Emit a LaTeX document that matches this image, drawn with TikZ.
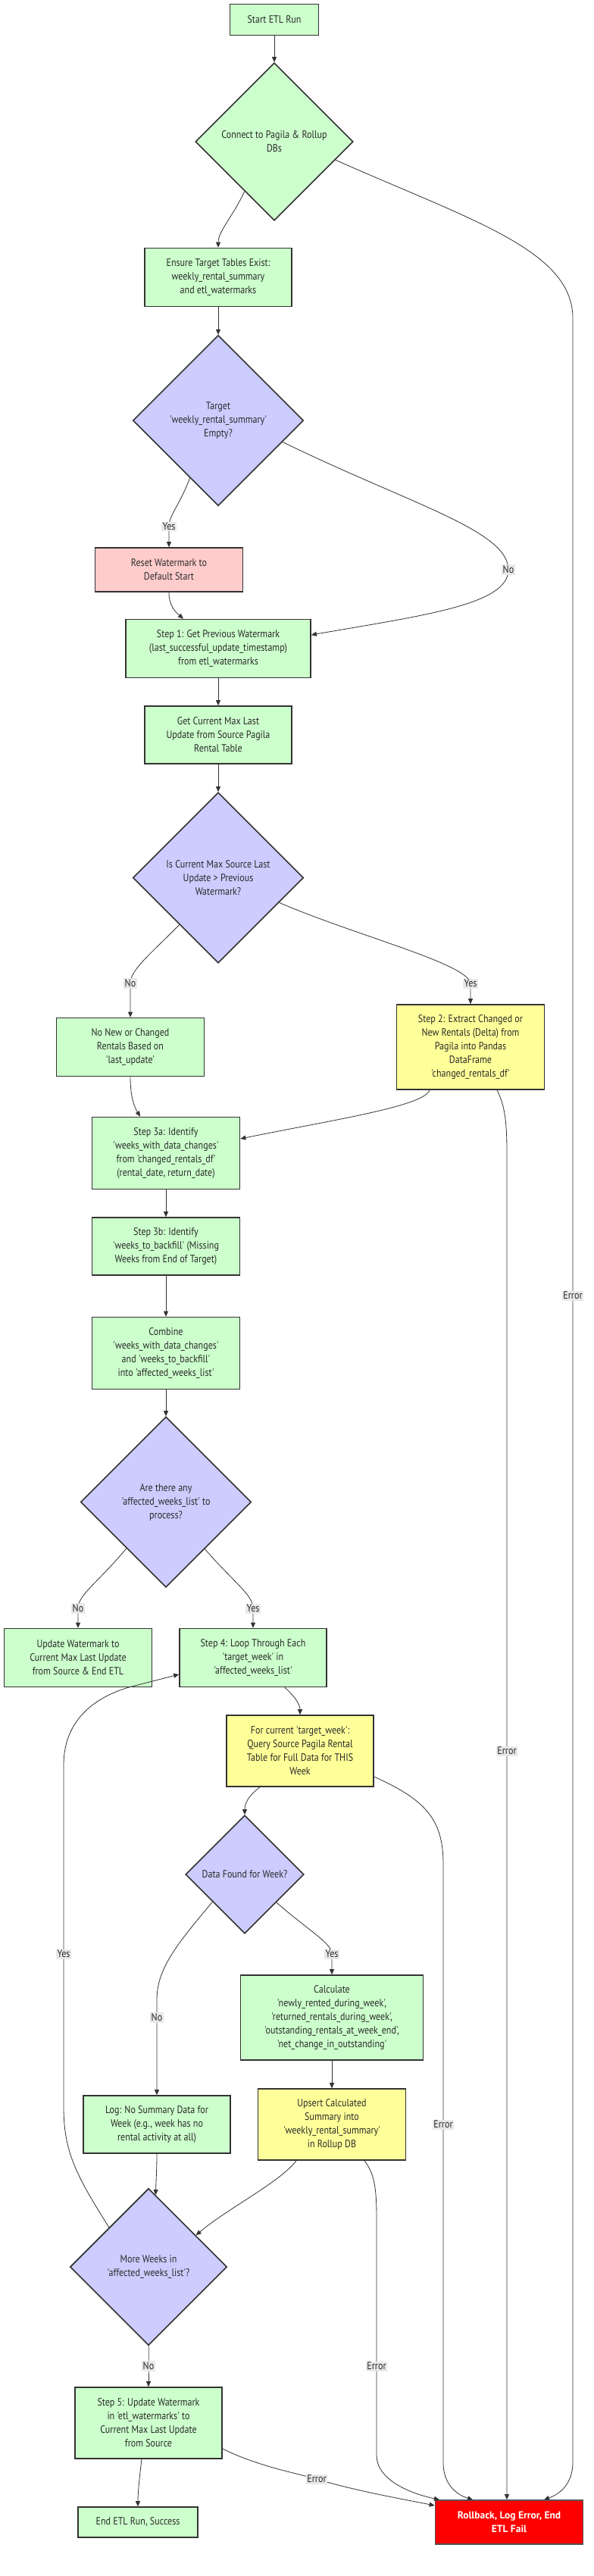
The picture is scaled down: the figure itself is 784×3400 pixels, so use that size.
\documentclass[tikz,border=0pt]{standalone}
\usepackage{fontspec}
\setmainfont{PT Sans}[Ligatures=TeXOff,FakeStretch=0.86]
\newfontfamily\rbfont{PT Sans}[Ligatures=TeXOff]
\usetikzlibrary{shapes.geometric,arrows.meta,calc}
\definecolor{gfill}{HTML}{CCFFCC}
\definecolor{bfill}{HTML}{CCCCFF}
\definecolor{pfill}{HTML}{FFCCCC}
\definecolor{yfill}{HTML}{FFFF99}
\definecolor{rfill}{HTML}{FF0000}
\definecolor{strk}{HTML}{333333}
\definecolor{rstrk}{HTML}{555555}
\definecolor{lblbg}{HTML}{E8E8E8}
\definecolor{txt}{HTML}{2A2A2A}
\tikzset{
 base/.style={draw=strk, line width=1.6pt, text=txt, align=center, font=\fontsize{14}{18}\selectfont, inner sep=0pt},
 box/.style={base, rectangle, fill=gfill},
 ybox/.style={box, fill=yfill},
 pbox/.style={box, fill=pfill},
 rbox/.style={box, fill=rfill, draw=rstrk, text=white, font=\rbfont\fontsize{13.5}{18}\selectfont\bfseries},
 dec/.style={base, diamond, aspect=1, fill=bfill},
 gdec/.style={dec, fill=gfill},
 edge/.style={draw=strk, line width=0.8pt, -{Triangle[length=7pt,width=6pt]}},
 lbl/.style={fill=lblbg, text=txt, font=\fontsize{14}{18}\selectfont, inner sep=1.5pt},
}
\begin{document}
\begin{tikzpicture}[x=1pt,y=-1pt]
\fill[white] (0,0) rectangle (784,3400);
\useasboundingbox (0,0) rectangle (784,3400);

% nodes
\node[box, minimum width=117pt, minimum height=41pt] (A) at (362,26) {Start ETL Run};
\node[gdec, minimum width=208pt, minimum height=208pt] (B) at (362,187) {Connect to Pagila \& Rollup\\DBs};
\node[box, minimum width=194pt, minimum height=77pt] (C) at (288,366) {Ensure Target Tables Exist:\\weekly\_rental\_summary\\and etl\_watermarks};
\node[dec, minimum width=225pt, minimum height=225pt] (D) at (288,555) {Target\\'weekly\_rental\_summary'\\Empty?};
\node[pbox, minimum width=195pt, minimum height=58pt] (E) at (223,752) {Reset Watermark to\\Default Start};
\node[box, minimum width=244pt, minimum height=77pt] (F) at (288,856) {Step 1: Get Previous Watermark\\(last\_successful\_update\_timestamp)\\from etl\_watermarks};
\node[box, minimum width=194pt, minimum height=76pt] (G) at (288,970) {Get Current Max Last\\Update from Source Pagila\\Rental Table};
\node[dec, minimum width=225pt, minimum height=225pt] (H) at (288,1158.5) {Is Current Max Source Last\\Update > Previous\\Watermark?};
\node[box, minimum width=195pt, minimum height=77pt] (I) at (172,1382) {No New or Changed\\Rentals Based on\\'last\_update'};
\node[ybox, minimum width=195pt, minimum height=112pt] (J) at (621,1382) {Step 2: Extract Changed or\\New Rentals (Delta) from\\Pagila into Pandas\\DataFrame\\'changed\_rentals\_df'};
\node[box, minimum width=195pt, minimum height=95pt] (K) at (219,1522) {Step 3a: Identify\\'weeks\_with\_data\_changes'\\from 'changed\_rentals\_df'\\(rental\_date, return\_date)};
\node[box, minimum width=195pt, minimum height=76pt] (L) at (219,1645) {Step 3b: Identify\\'weeks\_to\_backfill' (Missing\\Weeks from End of Target)};
\node[box, minimum width=195pt, minimum height=95pt] (M) at (219,1786) {Combine\\'weeks\_with\_data\_changes'\\and 'weeks\_to\_backfill'\\into 'affected\_weeks\_list'};
\node[dec, minimum width=225pt, minimum height=225pt] (N) at (219,1982.5) {Are there any\\'affected\_weeks\_list' to\\process?};
\node[box, minimum width=195pt, minimum height=77pt] (O) at (103,2188) {Update Watermark to\\Current Max Last Update\\from Source \& End ETL};
\node[box, minimum width=194pt, minimum height=77pt] (P) at (334,2188) {Step 4: Loop Through Each\\'target\_week' in\\'affected\_weeks\_list'};
\node[ybox, minimum width=194pt, minimum height=94pt] (Q) at (396,2311) {For current 'target\_week':\\Query Source Pagila Rental\\Table for Full Data for THIS\\Week};
\node[dec, minimum width=156pt, minimum height=156pt] (R) at (323,2474) {Data Found for Week?};
\node[box, minimum width=241pt, minimum height=112pt] (S) at (438,2663) {Calculate\\'newly\_rented\_during\_week',\\'returned\_rentals\_during\_week',\\'outstanding\_rentals\_at\_week\_end',\\'net\_change\_in\_outstanding'};
\node[box, minimum width=194pt, minimum height=76pt] (T) at (207,2804) {Log: No Summary Data for\\Week (e.g., week has no\\rental activity at all)};
\node[ybox, minimum width=195pt, minimum height=94pt] (U) at (438,2804) {Upsert Calculated\\Summary into\\'weekly\_rental\_summary'\\in Rollup DB};
\node[dec, minimum width=207pt, minimum height=207pt] (V) at (196,2992) {More Weeks in\\'affected\_weeks\_list'?};
\node[box, minimum width=194pt, minimum height=94pt] (W) at (196,3198) {Step 5: Update Watermark\\in 'etl\_watermarks' to\\Current Max Last Update\\from Source};
\node[box, minimum width=158pt, minimum height=40pt] (X) at (182,3329) {End ETL Run, Success};
\node[rbox, minimum width=195pt, minimum height=58pt] (Y) at (672,3329) {Rollback, Log Error, End\\ETL Fail};

% edges
\draw[edge] (A.south) -- (B.north);
\draw[edge] ($(B.south west)!0.25!(B.south)$) .. controls (308,285) and (288,305) .. (C.north);
\draw[edge] ($(B.east)!0.23!(B.south)$) .. controls (620,290) and (756,330) .. (756,420) -- (756,1710) node[lbl]{Error} -- (756,3250) .. controls (756,3285) and (730,3295) .. ($(Y.north)+(46,0)$);
\draw[edge] (C.south) -- (D.north);
\draw[edge] ($(D.west)!0.67!(D.south)$) .. controls (238,665) and (223,680) .. (223,695) node[lbl]{Yes} -- (E.north);
\draw[edge] ($(D.east)!0.25!(D.south)$) .. controls (540,665) and (671,700) .. (671,752) node[lbl]{No} .. controls (671,798) and (560,812) .. ($(F.east)+(0,-18)$);
\draw[edge] (E.south) .. controls (223,800) and (232,808) .. ($(F.north)+(-46,0)$);
\draw[edge] (F.south) -- (G.north);
\draw[edge] (G.south) -- (H.north);
\draw[edge] ($(H.west)!0.547!(H.south)$) .. controls (198,1260) and (172,1280) .. (172,1298) node[lbl]{No} -- (I.north);
\draw[edge] ($(H.east)!0.29!(H.south)$) .. controls (470,1235) and (618,1272) .. (621,1298) node[lbl]{Yes} -- (J.north);
\draw[edge] (I.south) .. controls (172,1450) and (178,1462) .. ($(K.north)+(-34,0)$);
\draw[edge] ($(J.south)+(-54,0)$) .. controls (560,1460) and (440,1478) .. ($(K.east)+(0,-19)$);
\draw[edge] ($(J.south)+(35,0)$) .. controls (666,1458) and (669,1480) .. (669,1520) -- (669,2311) node[lbl]{Error} -- ($(Y.north)+(-3,0)$);
\draw[edge] (K.south) -- (L.north);
\draw[edge] (L.south) -- (M.north);
\draw[edge] (M.south) -- (N.north);
\draw[edge] ($(N.west)!0.54!(N.south)$) .. controls (128,2090) and (103,2105) .. (103,2123) node[lbl]{No} -- (O.north);
\draw[edge] ($(N.east)!0.547!(N.south)$) .. controls (310,2090) and (334,2105) .. (334,2123) node[lbl]{Yes} -- (P.north);
\draw[edge] ($(P.south)+(42,0)$) .. controls (390,2240) and (396,2250) .. (Q.north);
\draw[edge] ($(Q.south)+(-53,0)$) .. controls (328,2370) and (323,2380) .. (R.north);
\draw[edge] ($(Q.east)+(0,34)$) .. controls (560,2375) and (585,2400) .. (585,2460) -- (585,2804) node[lbl]{Error} -- (585,3250) .. controls (585,3285) and (610,3295) .. ($(Y.north)+(-48,0)$);
\draw[edge] ($(R.east)!0.47!(R.south)$) .. controls (410,2550) and (438,2565) .. (438,2579) node[lbl]{Yes} -- (S.north);
\draw[edge] ($(R.west)!0.46!(R.south)$) .. controls (230,2570) and (207,2600) .. (207,2640) -- (207,2663) node[lbl]{No} -- (T.north);
\draw[edge] (S.south) -- (U.north);
\draw[edge] (T.south) .. controls (207,2862) and (206,2878) .. ($(V.north)!0.09!(V.east)$);
\draw[edge] ($(U.south)+(-47,0)$) .. controls (370,2880) and (300,2915) .. ($(V.north)!0.6!(V.east)$);
\draw[edge] ($(U.south)+(43,0)$) .. controls (495,2870) and (497,2890) .. (497,2930) -- (497,3123) node[lbl]{Error} -- (497,3240) .. controls (497,3280) and (560,3295) .. ($(Y.north)+(-92,0)$);
\draw[edge] (V.north west) .. controls (100,2870) and (84,2840) .. (84,2780) -- (84,2579) node[lbl]{Yes} -- (84,2330) .. controls (84,2260) and (140,2236) .. (170,2227) -- ($(P.west)+(0,22)$);
\draw[edge] (V.south) -- (196,3123) node[lbl]{No} -- (W.north);
\draw[edge] ($(W.south)+(-9,0)$) .. controls (184,3270) and (182,3290) .. (X.north);
\draw[edge] ($(W.east)+(0,34)$) .. controls (340,3255) and (390,3264) .. (418,3272) node[lbl]{Error} .. controls (470,3288) and (540,3300) .. ($(Y.west)+(0,-22)$);
\end{tikzpicture}
\end{document}
